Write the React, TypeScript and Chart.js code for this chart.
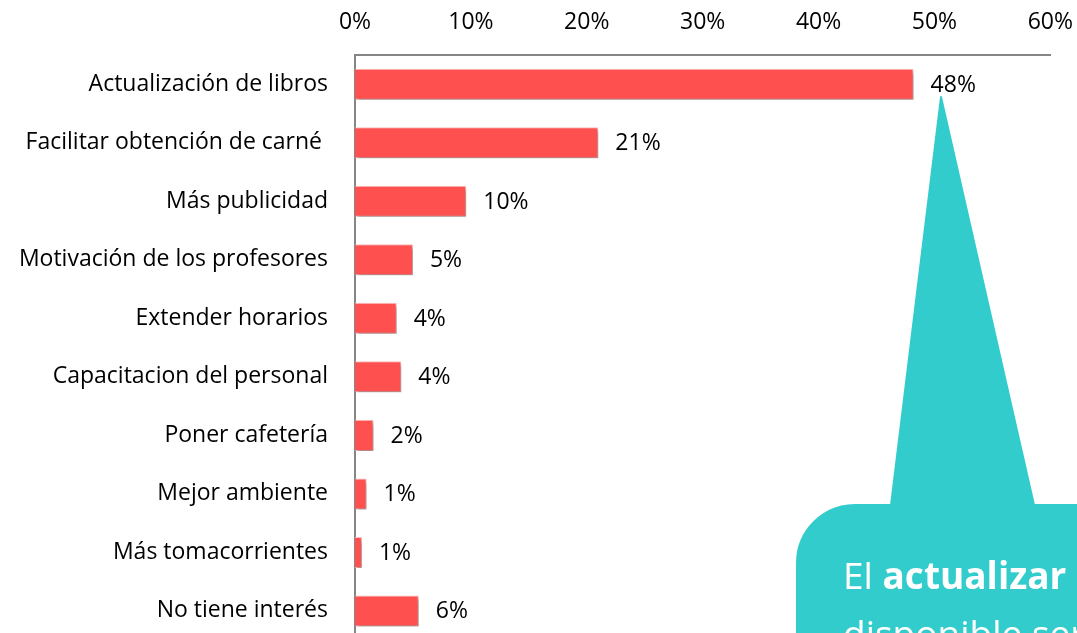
import React, { useEffect, useRef } from "react";
import { Chart, registerables } from "chart.js";

Chart.register(...registerables);

const categories = [
  "Actualización de libros",
  "Facilitar obtención de carné ",
  "Más publicidad",
  "Motivación de los profesores",
  "Extender horarios",
  "Capacitacion del personal",
  "Poner cafetería",
  "Mejor ambiente",
  "Más tomacorrientes",
  "No tiene interés",
];
const values = [48.2, 21.0, 9.6, 5.0, 3.6, 4.0, 1.6, 1.0, 0.6, 5.5];
const xMin = 0;
const xMax = 60;
const xStep = 10;

const FONT = "'Open Sans', Lato, sans-serif";
const BAR_COLOR = "#FF5050";
const TEAL = "#33CCCC";

const shadowAndLabels = {
  id: "shadowAndLabels",
  beforeDatasetsDraw(chart: any) {
    const ctx = chart.ctx;
    ctx.save();
    ctx.shadowColor = "rgba(0,0,0,0.35)";
    ctx.shadowBlur = 4;
    ctx.shadowOffsetX = 2;
    ctx.shadowOffsetY = 3;
  },
  afterDatasetsDraw(chart: any) {
    const ctx = chart.ctx;
    ctx.restore();
    const meta = chart.getDatasetMeta(0);
    ctx.save();
    ctx.font = `23px ${FONT}`;
    ctx.fillStyle = "#000";
    ctx.textAlign = "left";
    ctx.textBaseline = "middle";
    meta.data.forEach((bar: any, i: number) => {
      const v = chart.data.datasets[0].data[i] as number;
      ctx.fillText(`${Math.round(v)}%`, bar.x + 17, bar.y + 1);
    });
    ctx.restore();
  },
};

export default function App() {
  const ref = useRef<HTMLCanvasElement | null>(null);
  useEffect(() => {
    if (!ref.current) return;
    const chart = new Chart(ref.current, {
      type: "bar",
      data: {
        labels: categories,
        datasets: [
          {
            data: values,
            backgroundColor: BAR_COLOR,
            borderColor: "rgba(255,190,190,0.9)",
            borderWidth: 1,
            barPercentage: 0.53,
            categoryPercentage: 1,
          },
        ],
      },
      options: {
        indexAxis: "y",
        responsive: false,
        animation: false,
        devicePixelRatio: 1,
        layout: { padding: 0 },
        plugins: {
          legend: { display: false },
          tooltip: { enabled: false },
        },
        scales: {
          x: {
            type: "linear",
            position: "top",
            min: xMin,
            max: xMax,
            ticks: {
              stepSize: xStep,
              callback: (v: any) => `${v}%`,
              font: { family: FONT, size: 23 },
              color: "#000",
              padding: 19,
            },
            grid: { display: false, drawTicks: false },
            border: { display: true, color: "#868686", width: 2 },
            afterFit: (s: any) => {
              s.height = 55;
            },
          },
          y: {
            type: "category",
            ticks: {
              font: { family: FONT, size: 23 },
              color: "#000",
              padding: 27,
            },
            grid: { display: false, drawTicks: false },
            border: { display: true, color: "#868686", width: 2 },
            afterFit: (s: any) => {
              s.width = 355;
            },
          },
        },
      },
      plugins: [shadowAndLabels],
    } as any);
    return () => chart.destroy();
  }, []);

  return (
    <div
      style={{
        position: "fixed",
        left: 0,
        top: 0,
        width: 1077,
        height: 633,
        overflow: "hidden",
        background: "#fff",
      }}
    >
      <canvas
        ref={ref}
        width={1092}
        height={681}
        style={{ position: "absolute", left: 0, top: 0, display: "block" }}
      />
      <svg
        width={1077}
        height={633}
        style={{ position: "absolute", left: 0, top: 0 }}
      >
        <path
          d="M941,97 L1034,505 L1110,505 L1110,700 L797,700 L797,563 A58,58 0 0 1 855,505 L891,505 Z"
          fill={TEAL}
          stroke={TEAL}
          strokeWidth={2}
          strokeLinejoin="round"
        />
        <text x={843} y={589} fontFamily={FONT} fontSize={37} fill="#fff">
          El <tspan fontWeight="bold">actualizar</tspan>
        </text>
        <text x={843} y={647} fontFamily={FONT} fontSize={37} fill="#fff">
          disponible ser
        </text>
      </svg>
    </div>
  );
}
